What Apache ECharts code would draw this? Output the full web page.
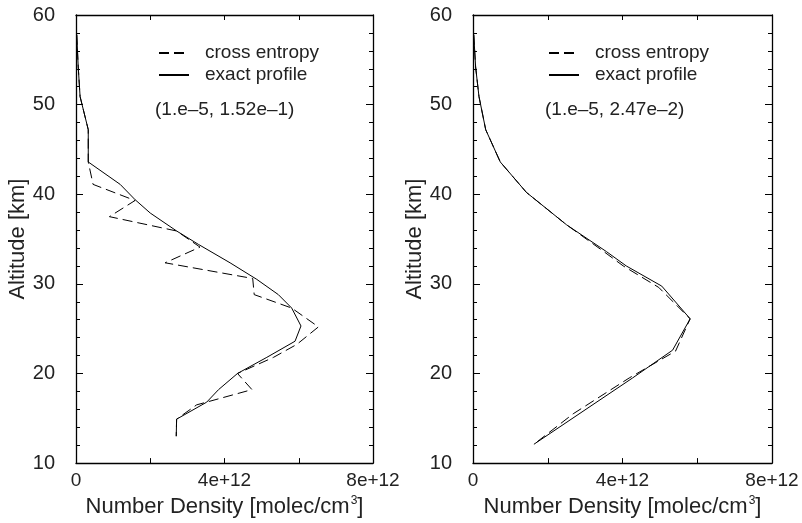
<!DOCTYPE html>
<html>
<head>
<meta charset="utf-8">
<script src="https://cdn.jsdelivr.net/npm/echarts@6/dist/echarts.min.js"></script>
<style>
  html, body { margin: 0; padding: 0; background: #fff; }
  #chart { width: 802px; height: 523px; }
</style>
</head>
<body>
<div id="chart"></div>
<script>
// densities in units of 1e12 molec/cm3, altitudes in km
var leftExactX = [0.02, 0.06, 0.11, 0.33, 0.33, 1.19, 1.59, 2.0, 2.71, 3.30, 4.15, 4.87, 5.45, 5.81, 6.06, 5.90, 5.14, 4.35, 3.84, 3.52, 2.71, 2.70];
var leftExactAlt = [57.8, 54.2, 50.9, 47.2, 43.6, 41.1, 39.4, 37.9, 35.9, 34.4, 32.35, 30.5, 28.8, 27.3, 25.3, 23.6, 21.8, 20.0, 18.2, 16.8, 14.9, 13.0];
var leftCrossX = [0.02, 0.06, 0.11, 0.33, 0.33, 0.46, 1.59, 0.90, 2.71, 3.34, 2.40, 4.76, 4.80, 5.81, 6.53, 5.95, 5.32, 4.35, 4.74, 3.25, 2.71, 2.70];
var leftCrossAlt = [57.8, 54.2, 50.9, 47.2, 43.6, 41.1, 39.3, 37.5, 35.9, 34.1, 32.35, 30.6, 28.8, 27.3, 25.2, 23.25, 21.8, 20.0, 18.2, 16.5, 14.9, 13.0];

var rightExactX = [0.02, 0.07, 0.16, 0.34, 0.73, 1.43, 2.50, 3.57, 4.10, 5.05, 5.81, 5.34, 4.27, 1.63];
var rightExactAlt = [57.8, 54.2, 50.9, 47.2, 43.6, 40.2, 36.6, 33.6, 32.0, 29.75, 26.1, 22.6, 19.5, 12.1];
var rightCrossX = [0.02, 0.07, 0.16, 0.34, 0.73, 1.43, 2.50, 3.50, 4.02, 4.97, 5.81, 5.42, 4.18, 2.68, 1.63];
var rightCrossAlt = [57.8, 54.2, 50.9, 47.2, 43.6, 40.2, 36.6, 33.6, 32.0, 29.6, 26.1, 22.5, 19.5, 15.5, 12.1];

var xTicks = [0, 4, 8];
var seriesNames = ['cross entropy', 'exact profile'];
var notes = ['(1.e\u20135, 1.52e\u20131)', '(1.e\u20135, 2.47e\u20132)'];

var font = '"Liberation Sans", Arial, Helvetica, sans-serif';
var textColor = '#222';

function pairs (xs, ys) {
  return xs.map(function (v, i) { return [v, ys[i]]; });
}

function xAxisFor (gridIndex, top) {
  return {
    type: 'value',
    gridIndex: gridIndex,
    position: top ? 'top' : 'bottom',
    min: 0,
    max: 8,
    interval: 4,
    name: top ? '' : 'Number Density [molec/cm{sup|3}]',
    nameLocation: 'middle',
    nameGap: 22,
    nameTextStyle: {
      fontFamily: font, fontSize: 22, color: textColor,
      rich: { sup: { fontFamily: font, fontSize: 12, color: textColor, verticalAlign: 'top', padding: [0, 0, 12, 1] } }
    },
    axisLine: { show: true, onZero: false, lineStyle: { color: '#000', width: 1.3 } },
    axisTick: { show: true, inside: true, length: 5, lineStyle: { color: '#000' } },
    minorTick: { show: true, splitNumber: 2, length: 5, lineStyle: { color: '#000' } },
    splitLine: { show: false },
    minorSplitLine: { show: false },
    axisLabel: {
      show: !top,
      margin: 8,
      fontFamily: font, fontSize: 19, color: textColor,
      formatter: function (v) {
        if (xTicks.indexOf(v) < 0) return '';
        return v === 0 ? '0' : v + 'e+12';
      }
    }
  };
}

function yAxisFor (gridIndex, right, gap) {
  return {
    type: 'value',
    gridIndex: gridIndex,
    position: right ? 'right' : 'left',
    min: 10,
    max: 60,
    interval: 10,
    name: right ? '' : 'Altitude [km]',
    nameLocation: 'middle',
    nameGap: gap,
    nameTextStyle: { fontFamily: font, fontSize: 22, color: textColor },
    axisLine: { show: true, onZero: false, lineStyle: { color: '#000', width: 1.3 } },
    axisTick: { show: true, inside: true, length: 7, lineStyle: { color: '#000' } },
    minorTick: { show: true, splitNumber: 5, length: 4, lineStyle: { color: '#000' } },
    splitLine: { show: false },
    minorSplitLine: { show: false },
    axisLabel: { show: !right, margin: 21, fontFamily: font, fontSize: 20, color: textColor }
  };
}

function lineSeries (name, data, axisIndex, dashed) {
  return {
    name: name,
    type: 'line',
    xAxisIndex: axisIndex,
    yAxisIndex: axisIndex,
    data: data,
    symbol: 'none',
    smooth: false,
    silent: true,
    animation: false,
    lineStyle: { color: '#000', width: 1, type: dashed ? [10, 5] : 'solid' },
    itemStyle: { color: '#000' }
  };
}

function legendFor (left) {
  return {
    orient: 'vertical',
    left: left,
    top: 43,
    padding: 0,
    itemWidth: 30,
    itemHeight: 14,
    itemGap: 2,
    selectedMode: false,
    data: seriesNames,
    itemStyle: { opacity: 0 },
    textStyle: { fontFamily: font, fontSize: 19, lineHeight: 20, color: textColor, padding: [0, 0, 0, 11] }
  };
}

var option = {
  backgroundColor: '#fff',
  animation: false,
  grid: [
    { left: 76, top: 15, width: 297, height: 449 },
    { left: 473, top: 15, width: 299, height: 449 }
  ],
  xAxis: [xAxisFor(0, false), xAxisFor(1, false), xAxisFor(0, true), xAxisFor(1, true)],
  yAxis: [yAxisFor(0, false, 44), yAxisFor(1, false, 42), yAxisFor(0, true, 0), yAxisFor(1, true, 0)],
  legend: [legendFor(158), legendFor(548)],
  graphic: [
    { type: 'text', left: 155, top: 100, style: { text: notes[0], font: '19px ' + font, fill: textColor } },
    { type: 'text', left: 545, top: 100, style: { text: notes[1], font: '19px ' + font, fill: textColor } }
  ],
  series: [
    lineSeries(seriesNames[0], pairs(leftCrossX, leftCrossAlt), 0, true),
    lineSeries(seriesNames[1], pairs(leftExactX, leftExactAlt), 0, false),
    lineSeries(seriesNames[0], pairs(rightCrossX, rightCrossAlt), 1, true),
    lineSeries(seriesNames[1], pairs(rightExactX, rightExactAlt), 1, false)
  ]
};

var chart = echarts.init(document.getElementById('chart'), null, { renderer: 'canvas' });
chart.setOption(option);
</script>
</body>
</html>
